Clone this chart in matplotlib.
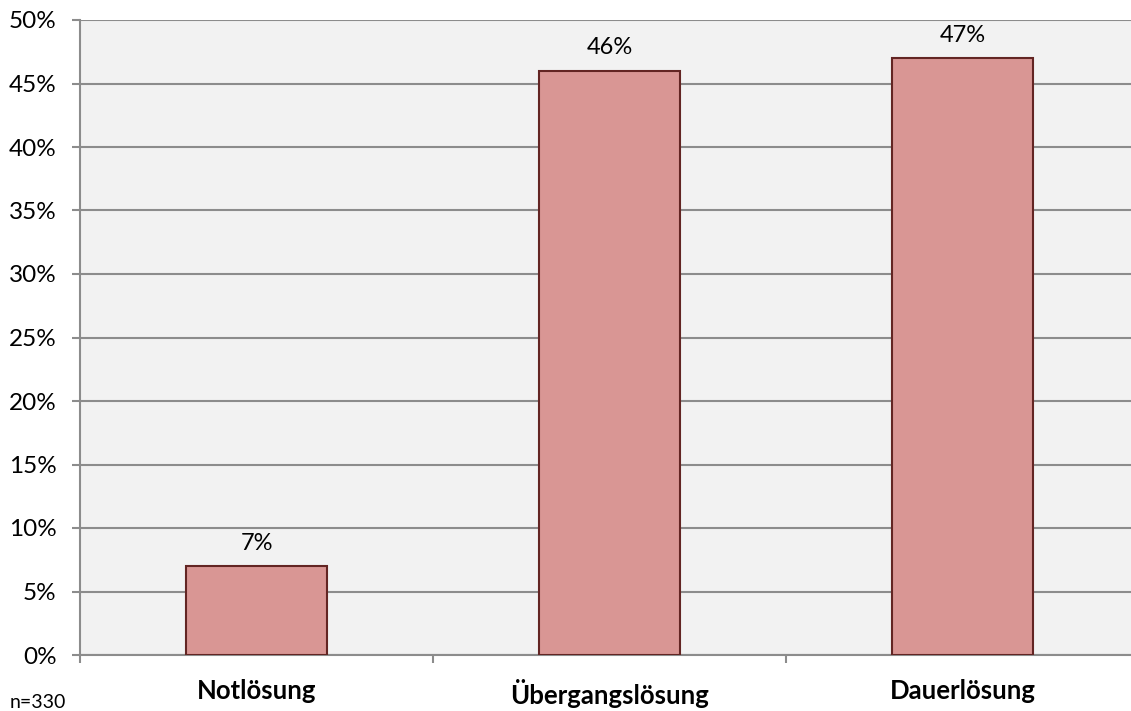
import matplotlib
matplotlib.use("Agg")
import matplotlib.pyplot as plt
from matplotlib.ticker import FixedLocator

categories = ["Notlösung", "Übergangslösung", "Dauerlösung"]
values = [7, 46, 47]
value_labels = ["7%", "46%", "47%"]
yticks = [0, 5, 10, 15, 20, 25, 30, 35, 40, 45, 50]
note = "n=330"

plt.rcParams['font.family'] = ['Lato', 'DejaVu Sans']

W, H = 1131, 711
fig = plt.figure(figsize=(W / 100, H / 100), dpi=100)
left, right, top, bottom = 80, 1139, 20, 655
ax = fig.add_axes([left / W, (H - bottom) / H, (right - left) / W, (bottom - top) / H])
ax.set_facecolor('#F2F2F2')

x = list(range(len(categories)))
ax.bar(x, values, width=0.40, color='#D99694', edgecolor='#632523', linewidth=1.5, zorder=3)
for xi, v, lab in zip(x, values, value_labels):
    ax.annotate(lab, (xi, v), xytext=(0, 9), textcoords='offset points',
                ha='center', va='bottom', fontsize=17, color='black')

ax.set_xlim(-0.5, 2.5)
ax.set_ylim(0, 50)
ax.set_yticks(yticks)
ax.set_yticklabels([f"{t}%" for t in yticks], fontsize=17.5)
ax.yaxis.grid(True, color='#8C8C8C', linewidth=1.5, zorder=0)
ax.set_axisbelow(True)

ax.set_xticks(x)
ax.set_xticklabels(categories, fontsize=18.5, fontweight='bold')
ax.xaxis.set_minor_locator(FixedLocator([-0.5, 0.5, 1.5, 2.5]))
ax.tick_params(axis='x', which='major', length=0, pad=17)
ax.tick_params(axis='x', which='minor', length=5.5, width=1.5, color='#8C8C8C')
ax.tick_params(axis='y', length=5.8, width=1.5, color='#8C8C8C', pad=11)

for s in ['top', 'right']:
    ax.spines[s].set_visible(False)
for s in ['left', 'bottom']:
    ax.spines[s].set_color('#8C8C8C')
    ax.spines[s].set_linewidth(1.5)

fig.text(10 / W, (H - 703) / H, note, fontsize=14, ha='left', va='center')

fig.savefig('out.png', dpi=100)
